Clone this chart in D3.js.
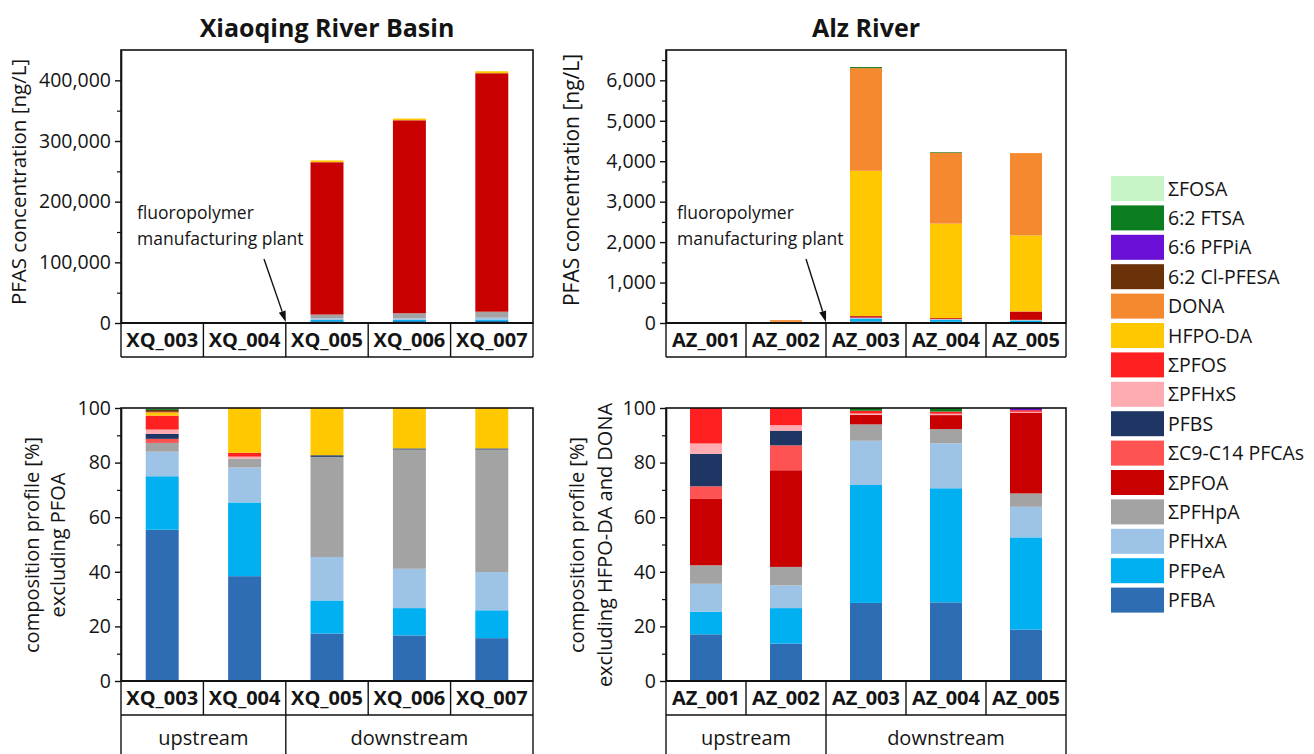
<!DOCTYPE html>
<html>
<head>
<meta charset="utf-8">
<script src="https://cdn.jsdelivr.net/npm/d3@7"></script>
<style>
  body { margin: 0; background: #fff; }
  text { font-family: "Open Sans", "Noto Sans", sans-serif; fill: #141414; }
</style>
</head>
<body>
<svg id="chart" width="1314" height="754"></svg>
<script>
// Compounds in stacking order (bottom of each bar to top)
const compounds = ["PFBA", "PFPeA", "PFHxA", "ΣPFHpA", "ΣPFOA", "ΣC9-C14 PFCAs", "PFBS",
  "ΣPFHxS", "ΣPFOS", "HFPO-DA", "DONA", "6:2 Cl-PFESA", "6:6 PFPiA", "6:2 FTSA", "ΣFOSA"];
const compoundColors = ["#2e6db4", "#00b0f0", "#9dc3e6", "#a3a3a3", "#c80000", "#ff5252", "#1f3564",
  "#ffabb2", "#ff2121", "#ffc800", "#f5892f", "#6b3109", "#6a10d6", "#0b7d1f", "#c8f5c8"];

const xqSites = ["XQ_003", "XQ_004", "XQ_005", "XQ_006", "XQ_007"];
const azSites = ["AZ_001", "AZ_002", "AZ_003", "AZ_004", "AZ_005"];
const groupLabels = ["upstream", "downstream"];
const groupSizes = [2, 3];

// PFAS concentrations [ng/L], one row per site, columns follow `compounds`
const xqConcentration = [
  [330, 120, 55, 20, 400, 8, 12, 10, 30, 7, 3, 5, 0, 2, 1],
  [350, 245, 115, 30, 700, 2, 3, 7, 13, 150, 0, 1, 0, 0, 0],
  [2960, 2060, 2700, 6240, 251000, 0, 85, 0, 20, 2940, 0, 0, 0, 0, 0],
  [3170, 1900, 2740, 8300, 318000, 0, 76, 0, 20, 2810, 0, 0, 0, 0, 0],
  [3450, 2240, 3080, 9880, 393000, 0, 90, 0, 20, 3260, 0, 0, 0, 0, 0]
];
const azConcentration = [
  [3.5, 1.7, 2, 1.4, 5, 1, 2.5, 0.8, 2.7, 0, 0, 0, 0, 0, 0],
  [3, 3, 2, 1.5, 8, 2, 1.2, 0.5, 1.5, 6, 42, 0, 0, 0, 0],
  [40, 60, 25, 9, 35, 1, 0, 1, 2, 3590, 2540, 0, 0, 25, 0],
  [30, 45, 17, 6, 22, 0, 0, 1, 1, 2335, 1755, 0, 0, 15, 0],
  [25, 35, 12, 6, 205, 0, 0, 1, 2, 1880, 2035, 0, 0, 0, 0]
];

// Composition profiles [%]: XQ excluding ΣPFOA, AZ excluding HFPO-DA and DONA
const xqProfile = [
  [55.4, 19.6, 9.0, 3.2, 0, 1.5, 1.8, 1.6, 5.1, 1.0, 0.4, 0.7, 0, 0.5, 0.2],
  [38.4, 27.0, 12.8, 3.2, 0, 0, 0, 0.8, 1.4, 16.4, 0, 0, 0, 0, 0],
  [17.4, 12.1, 15.9, 36.7, 0, 0, 0.6, 0, 0, 17.3, 0, 0, 0, 0, 0],
  [16.7, 10.0, 14.4, 43.7, 0, 0, 0.4, 0, 0, 14.8, 0, 0, 0, 0, 0],
  [15.7, 10.2, 14.0, 44.9, 0, 0, 0.4, 0, 0, 14.8, 0, 0, 0, 0, 0]
];
const azProfile = [
  [17.1, 8.3, 10.2, 6.8, 24.3, 4.6, 11.9, 3.8, 13.0, 0, 0, 0, 0, 0, 0],
  [13.7, 13.0, 8.3, 6.8, 35.4, 9.1, 5.4, 2.0, 6.3, 0, 0, 0, 0, 0, 0],
  [28.6, 43.2, 16.2, 6.0, 3.5, 0, 0, 0.5, 1.0, 0, 0, 0, 0, 1.0, 0],
  [28.8, 41.8, 16.5, 5.2, 5.1, 0, 0, 0.5, 0.8, 0, 0, 0, 0, 1.3, 0],
  [18.8, 33.8, 11.2, 4.9, 29.6, 0, 0, 0.3, 0.6, 0, 0, 0, 0.8, 0, 0]
];

// Axis ticks
const xqTicks = [0, 100000, 200000, 300000, 400000];
const azTicks = [0, 1000, 2000, 3000, 4000, 5000, 6000];
const profileTicks = [0, 20, 40, 60, 80, 100];

const svg = d3.select("#chart");
const fmt = d3.format(",");

function drawPanel(o) {
  const g = svg.append("g");
  const x = d3.scaleBand().domain(o.sites).range([o.x0, o.x1]);
  const y = d3.scaleLinear().domain([0, o.max]).range([o.yZero, o.yTop]);
  const bw = x.bandwidth() * 0.4;

  const table = o.sites.map((s, i) => {
    const row = { site: s };
    compounds.forEach((c, j) => { row[c] = o.rows[i][j]; });
    return row;
  });
  const series = d3.stack().keys(compounds)(table);

  g.append("g").selectAll("g").data(series).join("g")
    .attr("fill", (d, i) => compoundColors[i])
    .selectAll("rect").data(d => d).join("rect")
    .attr("x", d => x(d.data.site) + (x.bandwidth() - bw) / 2)
    .attr("width", bw)
    .attr("y", d => y(d[1]))
    .attr("height", d => Math.max(0, y(d[0]) - y(d[1])));

  // frame
  g.append("rect").attr("x", o.x0).attr("y", o.yTop)
    .attr("width", o.x1 - o.x0).attr("height", o.yZero - o.yTop)
    .attr("fill", "none").attr("stroke", "#111").attr("stroke-width", 1.6);

  // y axis: major and minor ticks
  const ax = g.append("g").attr("transform", `translate(${o.x0},0)`)
    .call(d3.axisLeft(y).tickValues(o.ticks).tickFormat(o.fmt).tickSize(6).tickSizeOuter(0).tickPadding(4));
  ax.select(".domain").attr("stroke", "#111").attr("stroke-width", 1.6);
  ax.selectAll(".tick line").attr("stroke", "#111").attr("stroke-width", 1.4);
  ax.selectAll(".tick text").style("font-size", "19.5px").style("font-family", "'Open Sans', sans-serif").attr("fill", "#141414");
  const minors = d3.range(o.minorStep, o.max, o.minorStep).filter(v => !o.ticks.includes(v));
  g.append("g").attr("transform", `translate(${o.x0},0)`)
    .call(d3.axisLeft(y).tickValues(minors).tickFormat("").tickSize(4).tickSizeOuter(0))
    .call(s => s.select(".domain").remove())
    .selectAll(".tick line").attr("stroke", "#111").attr("stroke-width", 1.2);

  // site label row
  const rowH = 34;
  const lab = g.append("g");
  lab.append("line").attr("x1", o.x0).attr("x2", o.x1).attr("y1", o.yZero).attr("y2", o.yZero)
    .attr("stroke", "#111").attr("stroke-width", 2);
  lab.append("line").attr("x1", o.x0).attr("x2", o.x1).attr("y1", o.yZero + rowH).attr("y2", o.yZero + rowH)
    .attr("stroke", "#111").attr("stroke-width", 1.4);
  const edges = o.sites.map(s => x(s)).concat([o.x1]);
  lab.selectAll("line.sep").data(edges).join("line").attr("class", "sep")
    .attr("x1", d => d).attr("x2", d => d).attr("y1", o.yZero).attr("y2", o.yZero + rowH)
    .attr("stroke", "#111").attr("stroke-width", 1.4);
  lab.selectAll("text").data(o.sites).join("text")
    .attr("x", d => x(d) + x.bandwidth() / 2).attr("y", o.yZero + rowH / 2 + 7)
    .attr("text-anchor", "middle").style("font-size", "20px").style("font-weight", "700")
    .text(d => d);

  // upstream / downstream row
  if (o.groups) {
    const top = o.yZero + rowH;
    let start = 0;
    const bounds = [o.x0];
    const centers = [];
    groupSizes.forEach(n => {
      const a = x(o.sites[start]);
      const b = start + n < o.sites.length ? x(o.sites[start + n]) : o.x1;
      bounds.push(b);
      centers.push((a + b) / 2);
      start += n;
    });
    g.selectAll("line.grp").data(bounds).join("line").attr("class", "grp")
      .attr("x1", d => d).attr("x2", d => d).attr("y1", top).attr("y2", 760)
      .attr("stroke", "#111").attr("stroke-width", 1.4);
    g.selectAll("text.grp").data(groupLabels).join("text").attr("class", "grp")
      .attr("x", (d, i) => centers[i]).attr("y", top + 30)
      .attr("text-anchor", "middle").style("font-size", "20px").text(d => d);
  }

  // y axis title
  o.yTitle.forEach((t, i) => {
    g.append("text")
      .attr("transform", `translate(${o.yTitleX[i]},${o.yTitleY}) rotate(-90)`)
      .attr("text-anchor", "middle").attr("dy", "0.35em")
      .style("font-size", o.yTitleSize).text(t);
  });

  // panel title
  if (o.title) {
    g.append("text").attr("x", (o.x0 + o.x1) / 2).attr("y", 37)
      .attr("text-anchor", "middle").style("font-size", "25px").style("font-weight", "700")
      .text(o.title);
  }

  // plant location annotation
  if (o.plant) {
    const px = x(o.sites[o.plant.after]) + x.bandwidth();
    g.append("text").attr("x", o.plant.tx).attr("y", 219).style("font-size", "17.5px").text("fluoropolymer");
    g.append("text").attr("x", o.plant.tx).attr("y", 245).style("font-size", "17.5px").text("manufacturing plant");
    const sx = o.plant.sx, sy = 259, ex = px, ey = o.yZero - 1;
    const ang = Math.atan2(ey - sy, ex - sx);
    const hl = 11, hw = 3.6;
    const bx = ex - hl * Math.cos(ang), by = ey - hl * Math.sin(ang);
    g.append("line").attr("x1", sx).attr("y1", sy).attr("x2", bx).attr("y2", by)
      .attr("stroke", "#111").attr("stroke-width", 1.4);
    g.append("path")
      .attr("d", `M${ex},${ey} L${bx - hw * Math.sin(ang)},${by + hw * Math.cos(ang)} L${bx + hw * Math.sin(ang)},${by - hw * Math.cos(ang)} Z`)
      .attr("fill", "#111");
  }
}

drawPanel({ sites: xqSites, rows: xqConcentration, x0: 121, x1: 533, yTop: 50, yZero: 323,
  max: 450000, ticks: xqTicks, minorStep: 50000, fmt: fmt,
  yTitle: ["PFAS concentration [ng/L]"], yTitleX: [19], yTitleY: 182, yTitleSize: "20.5px",
  title: "Xiaoqing River Basin", plant: { after: 1, tx: 137, sx: 264 } });

drawPanel({ sites: azSites, rows: azConcentration, x0: 666, x1: 1066, yTop: 50, yZero: 323,
  max: 6750, ticks: azTicks, minorStep: 500, fmt: fmt,
  yTitle: ["PFAS concentration [ng/L]"], yTitleX: [572], yTitleY: 180, yTitleSize: "21px",
  title: "Alz River", plant: { after: 1, tx: 677, sx: 806 } });

drawPanel({ sites: xqSites, rows: xqProfile, x0: 121, x1: 533, yTop: 408, yZero: 681,
  max: 100, ticks: profileTicks, minorStep: 10, fmt: d3.format("d"),
  yTitle: ["composition profile [%]", "excluding PFOA"], yTitleX: [32, 58], yTitleY: 545, yTitleSize: "20px",
  groups: true });

drawPanel({ sites: azSites, rows: azProfile, x0: 666, x1: 1066, yTop: 408, yZero: 681,
  max: 100, ticks: profileTicks, minorStep: 10, fmt: d3.format("d"),
  yTitle: ["composition profile [%]", "excluding HFPO-DA and DONA"], yTitleX: [577, 605], yTitleY: 545, yTitleSize: "20px",
  groups: true });

// legend, listed top-down in reverse stacking order
const legend = svg.append("g").attr("transform", "translate(1111,176)");
const legendItems = compounds.map((c, i) => ({ name: c, color: compoundColors[i] })).reverse();
const li = legend.selectAll("g").data(legendItems).join("g")
  .attr("transform", (d, i) => `translate(0,${i * 29.4})`);
li.append("rect").attr("width", 53).attr("height", 25).attr("fill", d => d.color);
li.append("text").attr("x", 57).attr("y", 19.5).style("font-size", "19.5px").text(d => d.name);
</script>
</body>
</html>
